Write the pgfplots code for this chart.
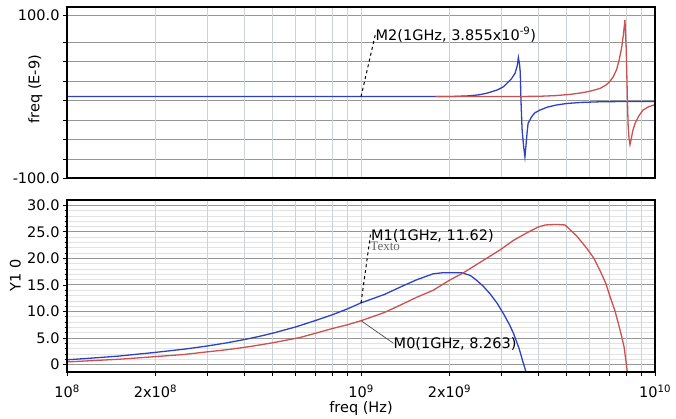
\documentclass[border=0pt]{standalone}
\usepackage{pgfplots}
\pgfplotsset{compat=1.18}
\usepackage{fontspec}
\setmainfont{DejaVu Sans}
\newfontfamily\serifx{Liberation Serif}
\definecolor{cblue}{RGB}{45,65,195}
\definecolor{cred}{RGB}{205,80,80}
\definecolor{gmaj}{RGB}{150,150,150}
\definecolor{gmin}{RGB}{226,226,226}
\definecolor{gvert}{RGB}{205,210,215}
\pgfplotsset{
 panel/.style={
   scale only axis, width=588pt, xmin=1e8, xmax=1e10,
   clip mode=individual,
   axis line style={line width=1.6pt, black},
   tick align=outside, xtick pos=bottom, ytick pos=left,
   xtick=\empty,
   extra x ticks={1e8,2e8,3e8,4e8,5e8,6e8,7e8,8e8,9e8,1e9,2e9,3e9,4e9,5e9,6e9,7e9,8e9,9e9,1e10},
   extra x tick style={xmajorgrids=true, major grid style={gvert, line width=0.8pt}},
   ymajorgrids, yminorgrids,
   major grid style={gmaj, line width=1pt},
   minor grid style={gmin, line width=0.6pt},
   major tick length=4pt, minor tick length=2.5pt,
   tick style={black, line width=0.8pt},
   tick label style={font=\fontsize{14.5}{16}\selectfont},
   label style={font=\fontsize{14.5}{16}\selectfont},
 }
}
\begin{document}
\begin{tikzpicture}
\useasboundingbox (0pt,0pt) rectangle (676pt,-418pt);
% ---------------- top panel ----------------
\begin{semilogxaxis}[panel, at={(67pt,-178pt)}, anchor=south west, height=171pt,
  ymin=-100, ymax=110,
  ytick={-100,-77,-53,-29,-5,19,43,67,100},
  yticklabels={-100.0,,,,,,,,100.0}, minor y tick num=3,
  extra x tick labels={}, extra x tick style={major tick length=0pt},
  ylabel={freq (E-9)}, ylabel style={at={(axis description cs:-0.054,0.52)}, anchor=center}]
\addplot[cblue, line width=1.3pt] coordinates {
(1e8,0) (1e9,0) (2e9,0) (2.3e9,0.8) (2.5e9,2) (2.67e9,4) (2.9e9,8) (3.05e9,12) (3.13e9,16) (3.25e9,22) (3.34e9,28.5) (3.4e9,38) (3.43e9,48) (3.46e9,40) (3.48e9,30) (3.5e9,-5) (3.53e9,-40) (3.57e9,-60) (3.61e9,-74) (3.64e9,-60) (3.67e9,-45) (3.7e9,-33) (3.8e9,-25) (3.9e9,-20) (4.06e9,-16.6) (4.3e9,-13) (4.6e9,-10.5) (5e9,-8.5) (5.6e9,-7.2) (6.5e9,-6.4) (8e9,-6) (1e10,-6)};
\addplot[cred, line width=1.3pt] coordinates {
(1.79e9,0) (3e9,0) (4e9,0.3) (4.6e9,1.2) (5.14e9,2.7) (5.6e9,4.5) (6e9,6.5) (6.5e9,10) (6.8e9,14) (7e9,18) (7.2e9,24) (7.4e9,33) (7.55e9,45) (7.7e9,60) (7.8e9,75) (7.9e9,94) (7.98e9,60) (8.05e9,0) (8.1e9,-35) (8.16e9,-52) (8.22e9,-59) (8.3e9,-52) (8.4e9,-42) (8.55e9,-33) (8.8e9,-24) (9.1e9,-16.6) (9.5e9,-12.5) (1e10,-10)};
\draw[dashed, line width=1pt] (axis cs:1e9,0) -- (axis cs:1.12e9,77);
\node[anchor=west, inner sep=0pt, font=\fontsize{14.5}{16}\selectfont] at (axis cs:1.12e9,76) {M2(1GHz, 3.855x10\textsuperscript{-9})};
\draw[black, line width=2pt] (rel axis cs:0,0) rectangle (rel axis cs:1,1);
\end{semilogxaxis}
% ---------------- bottom panel ----------------
\begin{semilogxaxis}[panel, at={(67pt,-372pt)}, anchor=south west, height=172pt,
  ymin=-1.4, ymax=31,
  ytick={0,5,10,15,20,25,30},
  yticklabels={0,5.0,10.0,15.0,20.0,25.0,30.0}, minor y tick num=4,
  extra x tick labels={{10\textsuperscript{8}},{2x10\textsuperscript{8}},{},{},{},{},{},{},{},{10\textsuperscript{9}},{2x10\textsuperscript{9}},{},{},{},{},{},{},{},{10\textsuperscript{10}}},
  extra x tick style={xticklabel style={yshift=-5pt}},
  xlabel={freq (Hz)}, xlabel style={at={(axis description cs:0.5,-0.21)}, anchor=center},
  ylabel={Y1 0}, ylabel style={at={(axis description cs:-0.088,0.56)}, anchor=center}]
\addplot[cblue, line width=1.3pt] coordinates {
(1e8,0.9) (1.2e8,1.2) (1.5e8,1.6) (2e8,2.3) (2.5e8,2.9) (3e8,3.5) (3.5e8,4.1) (4e8,4.7) (4.5e8,5.3) (5e8,5.9) (6e8,7.1) (7e8,8.3) (8e8,9.4) (9e8,10.5) (1e9,11.62) (1.2e9,13.2) (1.36e9,14.6) (1.55e9,16.0) (1.76e9,17.1) (1.9e9,17.3) (2.2e9,17.3) (2.35e9,16.8) (2.47e9,15.9) (2.6e9,14.8) (2.75e9,13.3) (2.9e9,11.6) (3.05e9,9.6) (3.2e9,7.5) (3.3e9,5.9) (3.45e9,3.0) (3.55e9,0.6) (3.65e9,-1.6)};
\addplot[cred, line width=1.3pt] coordinates {
(1e8,0.5) (1.5e8,1.0) (2e8,1.5) (2.5e8,1.9) (3e8,2.4) (3.5e8,2.8) (4.2e8,3.4) (5e8,4.1) (6.2e8,5.1) (7e8,5.9) (8e8,6.8) (9e8,7.5) (1e9,8.263) (1.2e9,9.8) (1.36e9,11.2) (1.55e9,12.7) (1.76e9,14.0) (2e9,15.9) (2.23e9,17.3) (2.6e9,19.6) (2.97e9,21.6) (3.3e9,23.4) (3.66e9,24.8) (4e9,25.9) (4.23e9,26.3) (4.6e9,26.4) (4.94e9,26.3) (5.42e9,24.2) (5.86e9,21.9) (6.2e9,20.0) (6.5e9,17.7) (6.8e9,15.3) (7.03e9,12.8) (7.3e9,10.2) (7.5e9,7.8) (7.7e9,5.3) (7.85e9,3.3) (7.95e9,1.0) (8.06e9,-1.6)};
\draw[dashed, line width=1pt] (axis cs:1e9,11.62) -- (axis cs:1.08e9,25);
\draw[black!70, line width=0.7pt] (axis cs:1e9,8.263) -- (axis cs:1.29e9,4.0);
\node[anchor=west, inner sep=0pt, font=\serifx\fontsize{13}{15}\selectfont, text=black!60] at (axis cs:1.075e9,22.3) {Texto};
\node[anchor=west, inner sep=0pt, font=\fontsize{14.5}{16}\selectfont] at (axis cs:1.08e9,24.3) {M1(1GHz, 11.62)};
\node[anchor=west, inner sep=0pt, font=\fontsize{14.5}{16}\selectfont] at (axis cs:1.29e9,3.9) {M0(1GHz, 8.263)};
\draw[black, line width=1.6pt] (rel axis cs:0,0) rectangle (rel axis cs:1,1);
\end{semilogxaxis}
\end{tikzpicture}
\end{document}
